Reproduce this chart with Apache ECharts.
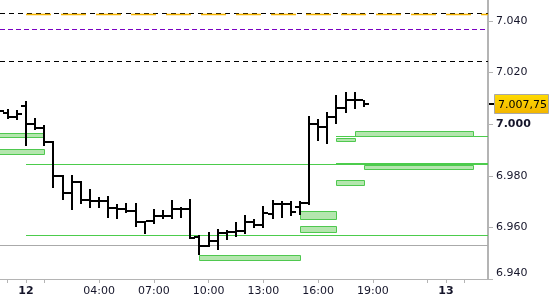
<!DOCTYPE html>
<html><head><meta charset="utf-8">
<script src="https://cdn.jsdelivr.net/npm/echarts@6/dist/echarts.min.js"></script>
<style>html,body{margin:0;padding:0;background:#fff}#c{width:550px;height:300px}</style>
</head><body><div id="c"></div>
<script>
// ---- data ----
// bar start times in hours relative to 00:00 of day 12 (30-minute bars)
const barTimes = [-1.5,-1,-0.5,0,0.5,1,1.5,2,2.5,3,3.5,4,4.5,5,5.5,6,6.5,7,7.5,8,8.5,9,9.5,10,10.5,11,11.5,12,12.5,13,13.5,14,14.5,15,15.5,16,16.5,17,17.5,18,18.5];
const opens  = [7.0058,7.0045,7.0029,7.0069,6.9999,6.9984,6.9930,6.9798,6.9733,6.9776,6.9705,6.9702,6.9701,6.9676,6.9671,6.9664,6.9621,6.9624,6.9643,6.9643,6.9672,6.9673,6.9564,6.9528,6.9546,6.9579,6.9584,6.9587,6.9620,6.9610,6.9650,6.9689,6.9691,6.9678,6.9696,6.9999,6.9988,7.0027,7.0063,7.0095,7.0092];
const highs  = [7.0066,7.0060,7.0053,7.0090,7.0022,6.9997,6.9934,6.9802,6.9802,6.9780,6.9747,6.9718,6.9723,6.9689,6.9693,6.9693,6.9626,6.9673,6.9669,6.9705,6.9680,6.9709,6.9570,6.9583,6.9592,6.9589,6.9621,6.9647,6.9632,6.9682,6.9708,6.9702,6.9702,6.9704,7.0031,7.0019,7.0048,7.0113,7.0126,7.0126,7.0094];
const lows   = [7.0044,7.0020,7.0015,6.9917,6.9979,6.9916,6.9751,6.9708,6.9669,6.9690,6.9677,6.9677,6.9638,6.9632,6.9655,6.9601,6.9576,6.9612,6.9632,6.9634,6.9638,6.9556,6.9492,6.9523,6.9511,6.9550,6.9563,6.9574,6.9596,6.9596,6.9634,6.9638,6.9645,6.9647,6.9686,6.9936,6.9925,7.0000,7.0042,7.0059,7.0065];
const closes = [7.0050,7.0029,7.0038,6.9999,6.9984,6.9930,6.9798,6.9733,6.9776,6.9705,6.9702,6.9701,6.9676,6.9670,6.9664,6.9621,6.9623,6.9643,6.9643,6.9672,6.9673,6.9560,6.9528,6.9546,6.9579,6.9584,6.9587,6.9620,6.9610,6.9656,6.9689,6.9691,6.9660,6.9696,6.9999,6.9988,7.0027,7.0063,7.0095,7.0092,7.00775];

// horizontal levels: price, start hour, end hour (null = chart edge)
const levelPrices = [7.0431, 7.0425, 7.0368, 7.0244, 6.9954, 6.9849, 6.98444, 6.9572, 6.9532];
const levelStarts = [null, 0, null, null, 17, 17, 0, 0, null];
const levelEnds   = [null, null, null, null, null, null, null, null, null];

// zones: start hour, end hour, top price, bottom price
const zoneStarts  = [-3, -3, 9.5, 15, 15, 17, 17, 18, 18.5];
const zoneEnds    = [1, 1, 15, 17, 17, 18, 18.5, 24.5, 24.5];
const zoneTops    = [6.9967, 6.9902, 6.9492, 6.9663, 6.9606, 6.9947, 6.9783, 6.9972, 6.9842];
const zoneBottoms = [6.9951, 6.9883, 6.9475, 6.9634, 6.9582, 6.9936, 6.9765, 6.9955, 6.9828];

const lastPrice = 7.00775;
const lastPriceLabel = '7.007,75';

// axes
const xTickValues  = [-1, 0, 1, 4, 7, 10, 13, 16, 19, 22, 23, 24];
const xLabelValues = [0, 4, 7, 10, 13, 16, 19, 23];
const xLabelTexts  = ['12', '04:00', '07:00', '10:00', '13:00', '16:00', '19:00', '13'];
const xLabelBold   = [true, false, false, false, false, false, false, true];
const yTickValues  = [6.94, 6.96, 6.98, 7.00, 7.02, 7.04];

const X_MIN = -1.4239, X_MAX = 25.301;
const Y_MIN = 6.94, Y_MAX = 7.0481;

// ---- styles ----
const levelStyles = [
  {stroke:'#000000', lineWidth:1, lineDash:[5,4]},
  {stroke:'#f5b400', lineWidth:1.5, lineDash:[25,10]},
  {stroke:'#7a00c2', lineWidth:1, lineDash:[5,3]},
  {stroke:'#000000', lineWidth:1, lineDash:[5,4]},
  {stroke:'#4ccc4c', lineWidth:1},
  {stroke:'#4ccc4c', lineWidth:1},
  {stroke:'#4ccc4c', lineWidth:1},
  {stroke:'#4ccc4c', lineWidth:1},
  {stroke:'#aaaaaa', lineWidth:1}
];
const FONT = 'DejaVu Sans';
const TXT = '#15152a';

const barData = barTimes.map((t,i)=>[t, opens[i], highs[i], lows[i], closes[i]]);
const levelData = levelPrices.map((p,i)=>[levelStarts[i]===null?X_MIN:levelStarts[i], levelEnds[i]===null?X_MAX:levelEnds[i], p]);
const zoneData = zoneStarts.map((s,i)=>[s, zoneEnds[i], zoneTops[i], zoneBottoms[i]]);

function renderBar(params, api){
  const t=api.value(0), o=api.value(1), h=api.value(2), l=api.value(3), c=api.value(4);
  const cx = Math.round(api.coord([t,o])[0]);
  const yO = Math.round(api.coord([t,o])[1]);
  const yC = Math.round(api.coord([t,c])[1]);
  const yH = Math.round(api.coord([t,h])[1]);
  const yL = Math.round(api.coord([t,l])[1]);
  return {type:'group', children:[
    {type:'rect', shape:{x:cx-1, y:yH, width:2, height:Math.max(yL-yH,2)}, style:{fill:'#000'}},
    {type:'rect', shape:{x:cx-5, y:yO-1, width:4, height:2}, style:{fill:'#000'}},
    {type:'rect', shape:{x:cx+1, y:yC-1, width:4, height:2}, style:{fill:'#000'}}
  ]};
}
function renderLevel(params, api){
  const a = api.coord([api.value(0), api.value(2)]);
  const b = api.coord([api.value(1), api.value(2)]);
  const y = Math.round(a[1]) + 0.5;
  return {type:'line', shape:{x1:Math.round(a[0]), y1:y, x2:Math.round(b[0]), y2:y},
          style:Object.assign({fill:null}, levelStyles[params.dataIndex])};
}
function renderZone(params, api){
  const a = api.coord([api.value(0), api.value(2)]);
  const b = api.coord([api.value(1), api.value(3)]);
  const x1 = Math.round(a[0]), x2 = Math.round(b[0]);
  const y1 = Math.round(a[1]), y2 = Math.round(b[1]);
  return {type:'rect', shape:{x:x1+0.5, y:y1+0.5, width:x2-x1, height:Math.max(y2-y1,3)},
          style:{fill:'#b4e6ae', stroke:'#4fc84f', lineWidth:1}};
}
function renderPrice(params, api){
  const p = api.coord([api.value(0), api.value(1)]);
  const x = Math.round(p[0]), y = Math.round(p[1]);
  return {type:'group', children:[
    {type:'rect', shape:{x:x+1, y:y-1, width:5, height:2}, style:{fill:'#000'}},
    {type:'rect', shape:{x:x+6.5, y:y-9.5, width:54, height:19},
      style:{fill:new echarts.graphic.LinearGradient(0,0,0,1,[{offset:0,color:'#ffdc00'},{offset:1,color:'#f2b400'}]),
             stroke:'#a8a8a8', lineWidth:1}},
    {type:'text', style:{x:x+10, y:y+1, text:lastPriceLabel, fill:'#000', font:'11px "DejaVu Sans"',
      textAlign:'left', textVerticalAlign:'middle', verticalAlign:'middle'}}
  ]};
}

const chart = echarts.init(document.getElementById('c'), null, {renderer:'canvas'});
chart.setOption({
  animation:false,
  backgroundColor:'#ffffff',
  grid:{left:0, right:62, top:0, bottom:21, containLabel:false},
  xAxis:{
    type:'value', min:X_MIN, max:X_MAX,
    axisLine:{show:true, onZero:false, lineStyle:{color:'#b4b4b4', width:1}},
    axisTick:{show:true, length:4, customValues:xTickValues, lineStyle:{color:'#b4b4b4'}},
    axisLabel:{show:true, customValues:xLabelValues, margin:7, fontSize:11, fontFamily:FONT, color:TXT,
      formatter:function(v){
        let i = xLabelValues.findIndex(x=>Math.abs(x-v)<1e-6);
        if(i<0) return '';
        return xLabelBold[i] ? '{b|'+xLabelTexts[i]+'}' : xLabelTexts[i];
      },
      rich:{b:{fontWeight:'bold', fontSize:11, fontFamily:FONT, color:TXT}}
    },
    splitLine:{show:false}
  },
  yAxis:{
    type:'value', position:'right', min:Y_MIN, max:Y_MAX,
    axisLine:{show:true, onZero:false, lineStyle:{color:'#b4b4b4', width:2}},
    axisTick:{show:true, length:5, customValues:yTickValues, lineStyle:{color:'#b4b4b4'}},
    axisLabel:{show:true, customValues:yTickValues, margin:8, fontSize:11, fontFamily:FONT, color:TXT,
      formatter:function(v){
        const s = v.toFixed(3);
        if(Math.abs(v-7.0)<1e-6) return '{bd|'+s+'}';
        if(Math.abs(v-Y_MIN)<1e-6) return '{lo|'+s+'}';
        return s;
      },
      rich:{
        bd:{fontWeight:'bold', fontSize:11, fontFamily:FONT, color:TXT},
        lo:{fontSize:11, fontFamily:FONT, color:TXT, padding:[0,0,11,0]}
      }
    },
    splitLine:{show:false}
  },
  series:[
    {type:'custom', name:'levels', renderItem:renderLevel, data:levelData, clip:true, silent:true, z:1,
     encode:{x:[0,1], y:2}},
    {type:'custom', name:'zones', renderItem:renderZone, data:zoneData, clip:true, silent:true, z:2,
     encode:{x:[0,1], y:[2,3]}},
    {type:'custom', name:'bars', renderItem:renderBar, data:barData, clip:true, silent:true, z:3,
     encode:{x:0, y:[1,2,3,4]}},
    {type:'custom', name:'lastPrice', renderItem:renderPrice, data:[[X_MAX, lastPrice]], clip:false, silent:true, z:10,
     encode:{x:0, y:1}}
  ]
});
</script>
</body></html>
